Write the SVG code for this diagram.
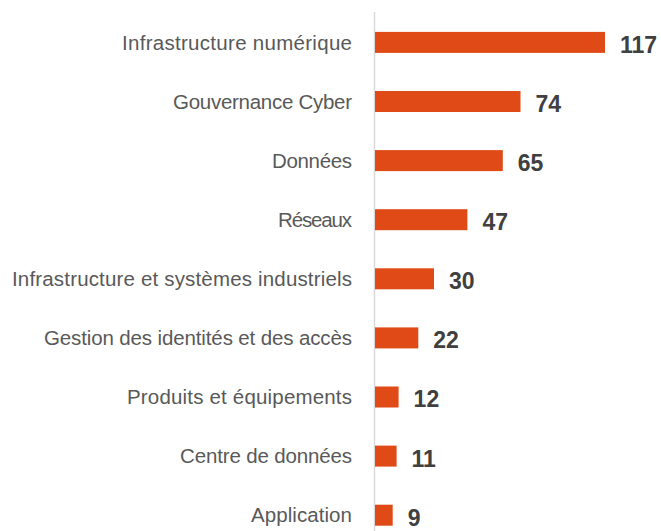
<svg xmlns="http://www.w3.org/2000/svg" width="661" height="531" viewBox="0 0 661 531">
<style>
.bar{fill:#E04A16}
.lbl{font-family:"Liberation Sans",Arial,sans-serif;font-size:20.5px;fill:#595959;text-anchor:end}
.val{font-family:"Liberation Sans",Arial,sans-serif;font-size:23px;font-weight:bold;fill:#404040}
.axis{stroke:#D9D9D9;stroke-width:1.5;fill:none}
</style>
<rect width="661" height="531" fill="#FFFFFF"/>
<g id="connectors"><line class="axis" x1="374.5" y1="12" x2="374.5" y2="531"/></g>
<g id="bar-1"><text class="lbl" x="352" y="49.6" textLength="230">Infrastructure numérique</text><rect class="bar" x="375" y="31.9" width="230" height="21"/><text class="val" x="620" y="52.8">117</text></g>
<g id="bar-2"><text class="lbl" x="352" y="108.7" textLength="179">Gouvernance Cyber</text><rect class="bar" x="375" y="91" width="145.5" height="21"/><text class="val" x="535.5" y="111.9">74</text></g>
<g id="bar-3"><text class="lbl" x="352" y="167.8" textLength="80">Données</text><rect class="bar" x="375" y="150.1" width="127.8" height="21"/><text class="val" x="517.8" y="171">65</text></g>
<g id="bar-4"><text class="lbl" x="352" y="226.9" textLength="74">Réseaux</text><rect class="bar" x="375" y="209.2" width="92.4" height="21"/><text class="val" x="482.4" y="230.1">47</text></g>
<g id="bar-5"><text class="lbl" x="352" y="286" textLength="340">Infrastructure et systèmes industriels</text><rect class="bar" x="375" y="268.3" width="59" height="21"/><text class="val" x="449" y="289.2">30</text></g>
<g id="bar-6"><text class="lbl" x="352" y="345.1" textLength="308">Gestion des identités et des accès</text><rect class="bar" x="375" y="327.4" width="43.3" height="21"/><text class="val" x="433.3" y="348.3">22</text></g>
<g id="bar-7"><text class="lbl" x="352" y="404.2" textLength="225">Produits et équipements</text><rect class="bar" x="375" y="386.5" width="23.6" height="21"/><text class="val" x="413.6" y="407.4">12</text></g>
<g id="bar-8"><text class="lbl" x="352" y="463.3" textLength="172">Centre de données</text><rect class="bar" x="375" y="445.6" width="21.6" height="21"/><text class="val" x="411.6" y="466.5">11</text></g>
<g id="bar-9"><text class="lbl" x="352" y="522.4" textLength="101">Application</text><rect class="bar" x="375" y="504.7" width="17.7" height="21"/><text class="val" x="407.7" y="525.6">9</text></g>
</svg>
